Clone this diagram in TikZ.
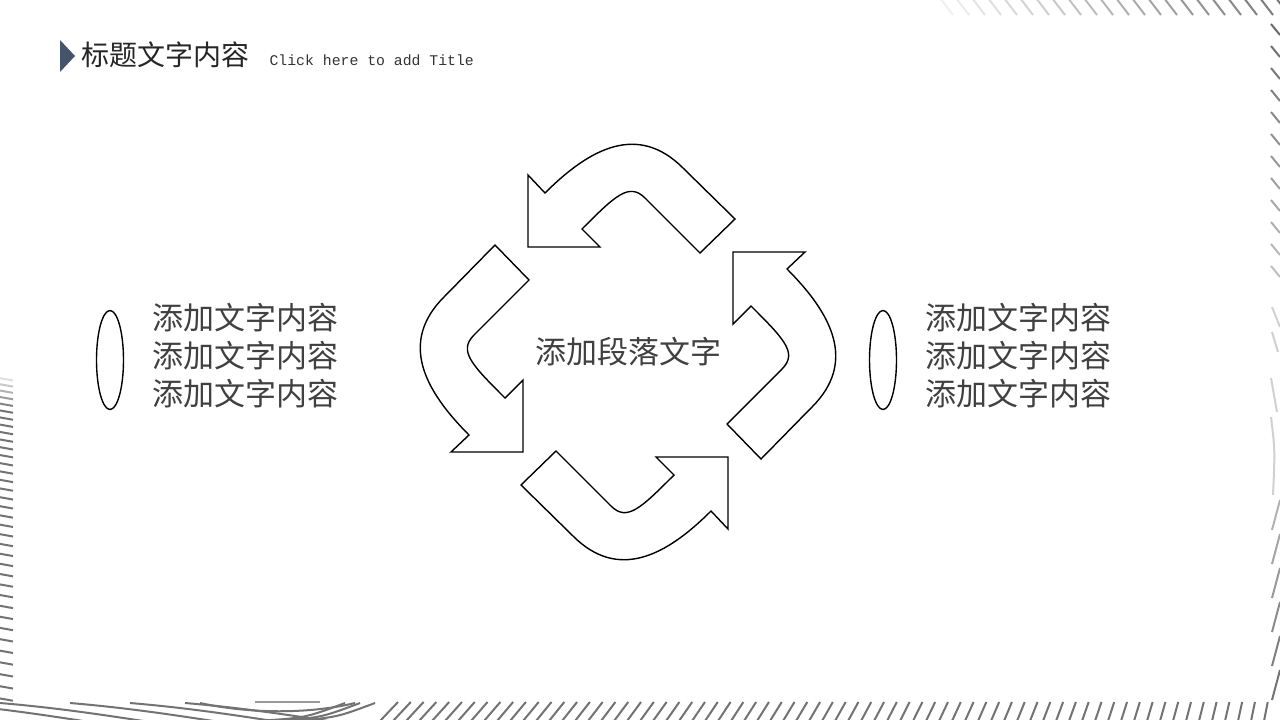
\documentclass[tikz,border=0pt]{standalone}
\usepackage{fontspec}
\setmonofont{Liberation Mono}
\newfontfamily\cjk{Noto Sans CJK SC}
\usetikzlibrary{positioning,shapes.geometric}
\definecolor{markblue}{HTML}{44546A}
\definecolor{textgray}{HTML}{404040}

\begin{document}
\begin{tikzpicture}[x=1pt,y=-1pt,
    loopline/.style={draw=black,line width=1.4pt,fill=white,line join=miter},
    stripe/.style={line width=2pt},
    oval/.style={draw=black,line width=1.4pt,ellipse,inner sep=0pt,minimum width=27pt,minimum height=99pt},
    sidetext/.style={font=\cjk\fontsize{31}{38}\selectfont,text=textgray,align=left,inner sep=0pt},
    midtext/.style={font=\cjk\fontsize{31}{38}\selectfont,text=textgray,inner sep=0pt},
    titletext/.style={font=\cjk\fontsize{28}{34}\selectfont,text=black!85,inner sep=0pt},
    subtext/.style={font=\ttfamily\fontsize{14.8}{18}\selectfont,text=black!80,inner sep=0pt}]
    \fill[white] (0,0) rectangle (1280,720);
    \useasboundingbox (0,0) rectangle (1280,720);

    % border stripes
    \begin{scope}
        \clip (0,0) rectangle (1280,720);
        \foreach \k [evaluate=\k as \g using int(6+50*\k/22)] in {0,...,22}
            \draw[stripe,black!\g] (940+16*\k,-2) -- ++(13,17);
        \foreach \k [evaluate=\k as \g using int(58-3*\k)] in {0,...,11}
            \draw[stripe,black!\g] (1271,24+22*\k) -- ++(9,11);
        \draw[stripe,black!18] (1272,307) -- (1280,327);
        \draw[stripe,black!18] (1272,332) -- (1278,352);
        \draw[stripe,black!18] (1271,378) -- (1277,412);
        \draw[stripe,black!18] (1271,417) .. controls (1275,450) .. (1273,495);
        \foreach \k [evaluate=\k as \g using int(30+5*\k)] in {0,...,5}
            \draw[stripe,black!\g] (1280,500+34*\k) -- ++(-8,30);
        \foreach \k [evaluate=\k as \xx using 380+13*\k, evaluate=\k as \dd using 18-0.21*\k] in {0,...,68}
            \draw[stripe,black!55] (\xx,721) -- ++(\dd,-19);
        \foreach \xx in {-60,0,70,130,185}
            \draw[stripe,black!55] (\xx,703) .. controls (\xx+60,708) and (\xx+110,716) .. (\xx+150,722);
        \draw[stripe,black!55] (200,703) .. controls (250,714) and (310,714) .. (355,703);
        \draw[stripe,black!40] (255,702) -- (320,702);
        \foreach \xx in {335,350,365}
            \draw[stripe,black!55] (\xx-80,721) .. controls (\xx-30,718) .. (\xx+10,703);
        \foreach \k [evaluate=\k as \yy using 378+6*\k+0.09*\k*\k, evaluate=\k as \g using {int(min(55,12+9*\k))}] in {0,...,35}
            \draw[stripe,black!\g] (-1,\yy) -- ++(14,2.5);
    \end{scope}

    % title
    \fill[markblue] (60,40) -- (75,56) -- (60,72) -- cycle;
    \node[titletext,anchor=west] (title) at (81,55) {标题文字内容};
    \node[subtext,anchor=base west] (sub) at ([xshift=20pt]title.base east) {Click here to add Title};

    % four turning arrows
    \foreach \a in {0,90,180,270}
        \draw[loopline,shift={(628,352)},rotate=\a] (-100,-105) -- (-100,-177) -- (-83,-159)
            .. controls (-38,-204) and (10,-229) .. (55,-184) -- (107,-133) -- (72,-99) -- (17,-154)
            .. controls (1,-170) and (-13,-156) .. (-46,-123) -- (-28,-105) -- cycle;
    \node[midtext] (mid) at (628,352) {添加段落文字};

    % side texts
    \node[oval] (lring) at (110,360) {};
    \node[sidetext,right=28pt of lring,yshift=4pt] (ltext) {添加文字内容\\添加文字内容\\添加文字内容};
    \node[oval] (rring) at (883,360) {};
    \node[sidetext,right=28pt of rring,yshift=4pt] (rtext) {添加文字内容\\添加文字内容\\添加文字内容};
\end{tikzpicture}
\end{document}
